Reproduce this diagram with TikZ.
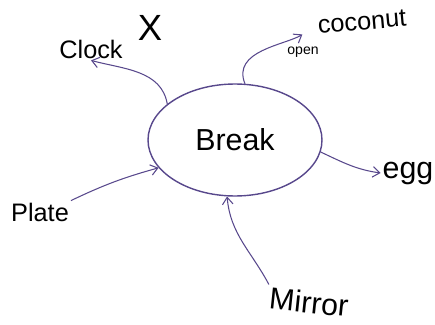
\documentclass[tikz,border=0pt]{standalone}
\usepackage{fontspec}
\setmainfont{Liberation Sans}
\usetikzlibrary{shapes.geometric, arrows.meta, positioning}
\definecolor{ink}{RGB}{88,72,140}

\begin{document}
\begin{tikzpicture}[
    x=0.02cm, y=-0.02cm,
    hub/.style={ellipse, draw=ink, thick, minimum width=3.48cm, minimum height=2.24cm, font=\LARGE},
    word/.style={font=\Large, inner sep=1pt},
    bigword/.style={font=\LARGE, inner sep=1pt},
    arrow/.style={-{Straight Barb[length=4pt, width=6pt]}, draw=ink, semithick},
    label/.style={font=\footnotesize, inner sep=1pt}
]
\useasboundingbox (0,0) rectangle (435,324);

\node[hub] (break) at (235,140) {Break};

\node[word] (clock) at (91,49) {Clock};
\node[font=\huge, inner sep=1pt] (cross) at (150,28) {X};
\node[word, rotate=5] (coconut) at (362,22) {coconut};
\node[label] (open) at (303,52) {open};
\node[bigword] (egg) at (408,173) {egg};
\node[word] (plate) at (40,212) {Plate};
\node[bigword, rotate=-6] (mirror) at (309,302) {Mirror};

\draw[arrow] (break.152) to[out=100, in=-15] (clock.south);
\draw[arrow, shorten >=9pt] (break.80) to[out=112, in=212] (coconut.west);
\draw[arrow] (break.-8) to[out=-25, in=172] (egg.west);
\draw[arrow] (plate.north east) to[bend left=5] (break.200);
\draw[arrow] (mirror.north west) to[out=118, in=-85] (break.262);

\end{tikzpicture}
\end{document}
